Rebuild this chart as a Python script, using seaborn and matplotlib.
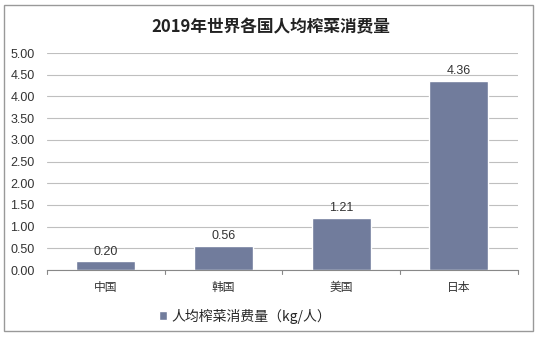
import matplotlib
matplotlib.use("Agg")
import matplotlib.pyplot as plt
import seaborn as sns
import pandas as pd
from matplotlib.patches import Rectangle

countries = ["中国", "韩国", "美国", "日本"]
values = [0.20, 0.56, 1.21, 4.36]
yticks = [0.0, 0.5, 1.0, 1.5, 2.0, 2.5, 3.0, 3.5, 4.0, 4.5, 5.0]
title = "2019年世界各国人均榨菜消费量"
series_name = "人均榨菜消费量（kg/人）"

sns.set_style("white")
plt.rcParams['font.family'] = ['Liberation Sans', 'Noto Sans CJK SC', 'DejaVu Sans']

df = pd.DataFrame({"country": countries, "value": values})
color = "#717C9C"

fig = plt.figure(figsize=(5.41, 3.38), dpi=100)
ax = fig.add_axes([0.087, 0.201, 0.870, 0.642])
sns.barplot(data=df, x="country", y="value", color=color, width=0.5, ax=ax,
            saturation=1, label=series_name)

ax.set_ylim(0, 5)
ax.set_xlim(-0.5, 3.5)
ax.set_yticks(yticks)
ax.set_yticklabels([f"{v:.2f}" for v in yticks], fontsize=9, color="#333333")
ax.tick_params(axis="y", length=0, pad=9)
ax.tick_params(axis="x", length=0, pad=8, labelsize=8.5, labelcolor="#333333")
for lab in ax.get_xticklabels():
    lab.set_family(['Noto Sans CJK SC', 'DejaVu Sans'])
ax.set_xlabel("")
ax.set_ylabel("")
ax.grid(axis="y", color="#BFBFBF", linewidth=0.8)
ax.set_axisbelow(True)
for s in ["top", "right", "left"]:
    ax.spines[s].set_visible(False)
ax.spines["bottom"].set_color("#888888")
ax.spines["bottom"].set_linewidth(0.8)
for xb in [-0.5, 0.5, 1.5, 2.5, 3.5]:
    ax.plot([xb, xb], [0, -0.08], color="#888888", lw=0.8, clip_on=False)

for i, v in enumerate(values):
    ax.text(i, v + 0.08, f"{v:.2f}", ha="center", va="bottom", fontsize=9, color="#333333")

leg = ax.legend(loc="upper center", bbox_to_anchor=(0.42, -0.12), frameon=False,
                prop={"family": ['Noto Sans CJK SC', 'DejaVu Sans'], "size": 10},
                handlelength=0.6, handleheight=0.6, handletextpad=0.3)

fig.text(0.5, 0.92, title, ha="center", va="center", fontsize=12, fontweight="bold",
         color="#222222", family=['Noto Sans CJK SC', 'DejaVu Sans'])

fig.patches.append(Rectangle((0.008, 0.02), 0.977, 0.965, transform=fig.transFigure,
                             fill=False, edgecolor="#999999", linewidth=1))

fig.savefig("out.png", dpi=100)
